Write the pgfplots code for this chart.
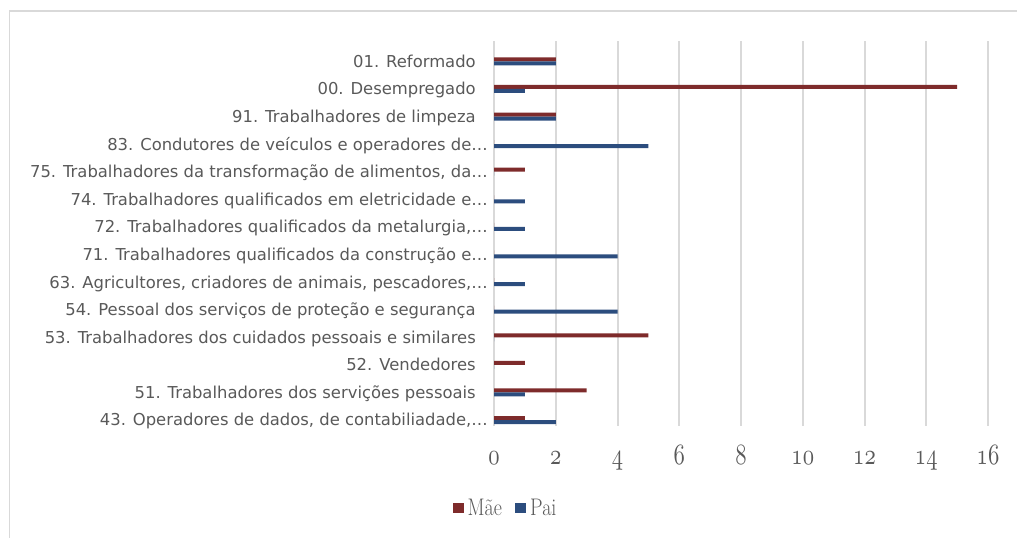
\documentclass[border=0pt]{standalone}
\usepackage{fontspec}
\usepackage{graphicx}
\usepackage{pgfplots}
\pgfplotsset{compat=1.18}
\newfontfamily\labelfont{DejaVu Sans}
\definecolor{mae}{HTML}{7E2B2B}
\definecolor{pai}{HTML}{2C4D7E}
\definecolor{txt}{HTML}{595959}
\definecolor{grd}{HTML}{D9D9D9}
% old-style figures for the value axis, stretched a little to look like the original
\font\osffont=cmmi10 at 17pt
\newcommand\osf[1]{\scalebox{1}[1.3]{\osffont #1}}
\newcommand\leg[1]{\scalebox{1}[1.2]{#1}}
\newcommand\tsp{\hspace*{9pt}}

\begin{document}
\begin{tikzpicture}[x=0.75pt,y=0.75pt]
  \useasboundingbox (0,0) rectangle (1017,538);
  \draw[grd, line width=1.1pt] (9.5,-10) -- (9.5,527) -- (1030,527);
  \begin{axis}[
    at={(370.5pt,84pt)}, anchor=south west,
    width=370.5pt, height=288.75pt, scale only axis,
    xbar, bar width=3pt,
    xmin=0, xmax=16, ymin=-0.217, ymax=13.74,
    xtick={0,2,...,16},
    xticklabels={\osf{0},\osf{2},\osf{4},\osf{6},\osf{8},\osf{10},\osf{12},\osf{14},\osf{16}},
    ytick={0,...,13},
    yticklabels={
      {43. Operadores de dados, de contabiliadade,…},
      {51. Trabalhadores dos servições pessoais\tsp},
      {52. Vendedores\tsp},
      {53. Trabalhadores dos cuidados pessoais e similares\tsp},
      {54. Pessoal dos serviços de proteção e segurança\tsp},
      {63. Agricultores, criadores de animais, pescadores,…},
      {71. Trabalhadores qualificados da construção e…},
      {72. Trabalhadores qualificados da metalurgia,…},
      {74. Trabalhadores qualificados em eletricidade e…},
      {75. Trabalhadores da transformação de alimentos, da…},
      {83. Condutores de veículos e operadores de…},
      {91. Trabalhadores de limpeza\tsp},
      {00. Desempregado\tsp},
      {01. Reformado\tsp}},
    xmajorgrids, major grid style={grd, line width=1.5pt},
    axis line style={draw=none}, major tick length=0pt,
    xticklabel style={text=txt, anchor=base, yshift=-29.25pt},
    yticklabel style={font=\labelfont\fontsize{12.3}{12.3}\selectfont, text=txt,
      anchor=base east, inner sep=0pt, xshift=-4.5pt, yshift=-4.48pt},
    legend style={at={(axis description cs:0.024,-0.213)}, anchor=center,
      draw=none, legend columns=2,
      font=\fontsize{15}{15}\selectfont, text=txt,
      /tikz/every odd column/.append style={column sep=1pt},
      /tikz/every even column/.append style={column sep=8pt}},
    legend image code/.code={\fill[#1] (0pt,-4.1pt) rectangle (8.25pt,4.1pt);},
  ]
    \addplot[fill=mae, draw=none, bar shift=1.5pt] coordinates {
      (1,0) (3,1) (1,2) (5,3) (0,4) (0,5) (0,6)
      (0,7) (0,8) (1,9) (0,10) (2,11) (15,12) (2,13)};
    \addlegendentry{\leg{Mãe}}
    \addplot[fill=pai, draw=none, bar shift=-1.5pt] coordinates {
      (2,0) (1,1) (0,2) (0,3) (4,4) (1,5) (4,6)
      (1,7) (1,8) (0,9) (5,10) (2,11) (1,12) (2,13)};
    \addlegendentry{\leg{Pai}}
  \end{axis}
\end{tikzpicture}
\end{document}
